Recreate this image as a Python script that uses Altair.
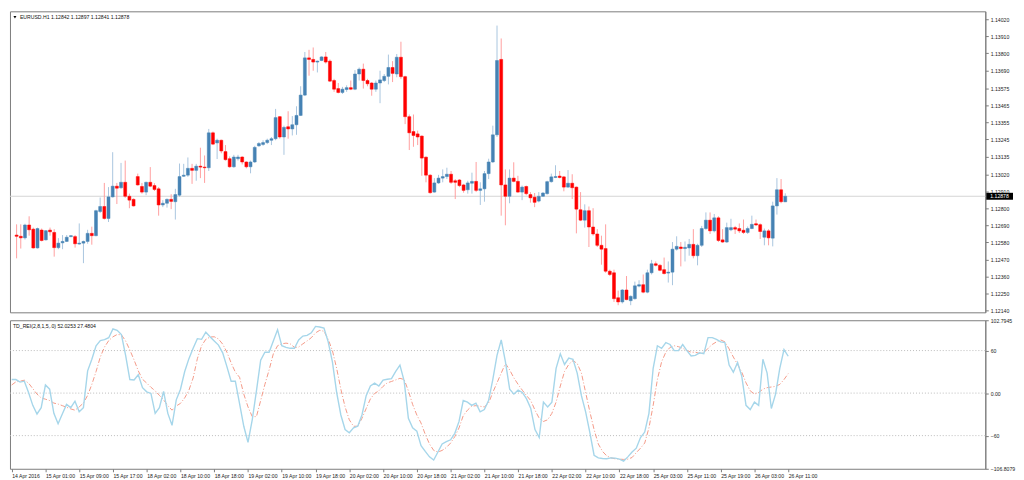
import json
import altair as alt
import pandas as pd

# ---------------- data (EURUSD H1) ----------------
OPEN = [
    1.12628, 1.12620, 1.12610, 1.12693, 1.12666, 1.12545, 1.12660, 1.12597, 1.12660, 1.12645,
    1.12547, 1.12578, 1.12587, 1.12618, 1.12618, 1.12570, 1.12576, 1.12587, 1.12639, 1.12624,
    1.12780, 1.12812, 1.12735, 1.12874, 1.12943, 1.12933, 1.12968, 1.12878, 1.12858, 1.13005,
    1.12941, 1.12905, 1.12968, 1.12947, 1.12926, 1.12822, 1.12833, 1.12858, 1.12843, 1.12885,
    1.13007, 1.13014, 1.13058, 1.13045, 1.13072, 1.13066, 1.13062, 1.13287, 1.13222, 1.13239,
    1.13166, 1.13120, 1.13068, 1.13120, 1.13131, 1.13099, 1.13068, 1.13099, 1.13203, 1.13212,
    1.13224, 1.13239, 1.13249, 1.13391, 1.13260, 1.13326, 1.13312, 1.13339, 1.13399, 1.13530,
    1.13770, 1.13760, 1.13743, 1.13753, 1.13776, 1.13749, 1.13624, 1.13572, 1.13547, 1.13566,
    1.13578, 1.13568, 1.13666, 1.13697, 1.13624, 1.13608, 1.13568, 1.13608, 1.13624, 1.13651,
    1.13708, 1.13666, 1.13774, 1.13649, 1.13391, 1.13295, 1.13280, 1.13266, 1.13130, 1.13014,
    1.12905, 1.12964, 1.12995, 1.13005, 1.13020, 1.12978, 1.12983, 1.12951, 1.12920, 1.12962,
    1.12974, 1.12916, 1.12926, 1.13024, 1.13099, 1.13274, 1.13760, 1.12951, 1.12878, 1.12995,
    1.12974, 1.12905, 1.12941, 1.12889, 1.12872, 1.12847, 1.12878, 1.12895, 1.12972, 1.12999,
    1.13008, 1.13003, 1.12937, 1.12962, 1.12937, 1.12791, 1.12724, 1.12785, 1.12680, 1.12635,
    1.12562, 1.12541, 1.12395, 1.12385, 1.12224, 1.12197, 1.12274, 1.12205, 1.12218, 1.12299,
    1.12308, 1.12260, 1.12385, 1.12443, 1.12433, 1.12405, 1.12383, 1.12389, 1.12537, 1.12551,
    1.12541, 1.12545, 1.12568, 1.12495, 1.12562, 1.12670, 1.12724, 1.12655, 1.12739, 1.12597,
    1.12583, 1.12662, 1.12676, 1.12670, 1.12659, 1.12645, 1.12670, 1.12701, 1.12695, 1.12614,
    1.12655, 1.12608, 1.12816, 1.12920, 1.12842,
]
HIGH = [
    1.12697, 1.12697, 1.12701, 1.12749, 1.12676, 1.12676, 1.12670, 1.12660, 1.12676, 1.12666,
    1.12608, 1.12628, 1.12628, 1.12628, 1.12628, 1.12703, 1.12592, 1.12662, 1.12682, 1.12791,
    1.12870, 1.12964, 1.12937, 1.13162, 1.12964, 1.13093, 1.13108, 1.12895, 1.12864, 1.13024,
    1.12964, 1.12972, 1.13066, 1.12962, 1.12937, 1.12853, 1.12864, 1.12891, 1.12926, 1.13089,
    1.13087, 1.13128, 1.13087, 1.13087, 1.13191, 1.13141, 1.13312, 1.13295, 1.13249, 1.13243,
    1.13208, 1.13135, 1.13145, 1.13145, 1.13135, 1.13103, 1.13108, 1.13203, 1.13228, 1.13239,
    1.13249, 1.13260, 1.13441, 1.13395, 1.13333, 1.13426, 1.13395, 1.13458, 1.13587, 1.13808,
    1.13822, 1.13837, 1.13753, 1.13780, 1.13808, 1.13760, 1.13635, 1.13608, 1.13583, 1.13593,
    1.13624, 1.13691, 1.13708, 1.13733, 1.13635, 1.13614, 1.13624, 1.13687, 1.13666, 1.13791,
    1.13749, 1.13795, 1.13874, 1.13655, 1.13405, 1.13405, 1.13301, 1.13270, 1.13135, 1.13020,
    1.12995, 1.13016, 1.13051, 1.13062, 1.13041, 1.12989, 1.12989, 1.12958, 1.12978, 1.13030,
    1.13099, 1.12968, 1.13041, 1.13120, 1.13333, 1.13978, 1.13895, 1.13051, 1.13051, 1.13097,
    1.13010, 1.12947, 1.12947, 1.12905, 1.12899, 1.12905, 1.12905, 1.12978, 1.13024, 1.13078,
    1.13041, 1.13008, 1.13047, 1.13020, 1.12941, 1.12905, 1.12826, 1.12812, 1.12801, 1.12666,
    1.12624, 1.12697, 1.12405, 1.12405, 1.12270, 1.12280, 1.12364, 1.12239, 1.12328, 1.12337,
    1.12374, 1.12405, 1.12468, 1.12458, 1.12441, 1.12483, 1.12458, 1.12583, 1.12620, 1.12583,
    1.12587, 1.12603, 1.12666, 1.12572, 1.12687, 1.12774, 1.12774, 1.12764, 1.12749, 1.12666,
    1.12708, 1.12733, 1.12687, 1.12703, 1.12728, 1.12683, 1.12753, 1.12728, 1.12703, 1.12670,
    1.12666, 1.12843, 1.12995, 1.12989, 1.12897,
]
LOW = [
    1.12478, 1.12541, 1.12599, 1.12624, 1.12541, 1.12541, 1.12587, 1.12593, 1.12624, 1.12489,
    1.12537, 1.12537, 1.12583, 1.12614, 1.12547, 1.12566, 1.12447, 1.12572, 1.12566, 1.12620,
    1.12770, 1.12728, 1.12712, 1.12870, 1.12828, 1.12926, 1.12868, 1.12801, 1.12812, 1.12947,
    1.12895, 1.12885, 1.12937, 1.12912, 1.12753, 1.12808, 1.12805, 1.12795, 1.12728, 1.12874,
    1.13003, 1.13003, 1.12958, 1.12978, 1.12995, 1.12964, 1.13041, 1.13208, 1.13118, 1.13155,
    1.13108, 1.13062, 1.13062, 1.13108, 1.13083, 1.13058, 1.13026, 1.13093, 1.13197, 1.13203,
    1.13214, 1.13208, 1.13239, 1.13249, 1.13145, 1.13249, 1.13270, 1.13274, 1.13395, 1.13524,
    1.13655, 1.13687, 1.13676, 1.13749, 1.13733, 1.13614, 1.13551, 1.13541, 1.13537, 1.13551,
    1.13562, 1.13562, 1.13624, 1.13572, 1.13587, 1.13526, 1.13551, 1.13478, 1.13614, 1.13599,
    1.13614, 1.13645, 1.13635, 1.13343, 1.13176, 1.13197, 1.13208, 1.13010, 1.12968, 1.12895,
    1.12901, 1.12958, 1.12968, 1.12989, 1.12958, 1.12860, 1.12937, 1.12901, 1.12895, 1.12895,
    1.12905, 1.12822, 1.12843, 1.12989, 1.13093, 1.13260, 1.12753, 1.12691, 1.12833, 1.12968,
    1.12901, 1.12853, 1.12885, 1.12837, 1.12808, 1.12839, 1.12874, 1.12889, 1.12966, 1.12995,
    1.12993, 1.12910, 1.12933, 1.12860, 1.12639, 1.12718, 1.12676, 1.12551, 1.12624, 1.12551,
    1.12437, 1.12385, 1.12364, 1.12197, 1.12176, 1.12187, 1.12208, 1.12176, 1.12212, 1.12291,
    1.12253, 1.12253, 1.12374, 1.12426, 1.12395, 1.12374, 1.12322, 1.12305, 1.12528, 1.12426,
    1.12458, 1.12495, 1.12478, 1.12433, 1.12551, 1.12662, 1.12635, 1.12645, 1.12583, 1.12578,
    1.12578, 1.12653, 1.12635, 1.12641, 1.12635, 1.12635, 1.12666, 1.12687, 1.12603, 1.12562,
    1.12562, 1.12555, 1.12760, 1.12833, 1.12841,
]
CLOSE = [
    1.12620, 1.12610, 1.12693, 1.12662, 1.12545, 1.12670, 1.12593, 1.12656, 1.12649, 1.12547,
    1.12576, 1.12587, 1.12614, 1.12624, 1.12572, 1.12576, 1.12587, 1.12639, 1.12624, 1.12785,
    1.12812, 1.12735, 1.12874, 1.12943, 1.12930, 1.12968, 1.12878, 1.12853, 1.12816, 1.12951,
    1.12905, 1.12968, 1.12943, 1.12922, 1.12822, 1.12833, 1.12858, 1.12845, 1.12889, 1.13005,
    1.13014, 1.13058, 1.13045, 1.13072, 1.13066, 1.13062, 1.13287, 1.13214, 1.13239, 1.13170,
    1.13114, 1.13068, 1.13131, 1.13131, 1.13099, 1.13068, 1.13099, 1.13193, 1.13218, 1.13224,
    1.13239, 1.13249, 1.13385, 1.13260, 1.13322, 1.13312, 1.13339, 1.13399, 1.13530, 1.13770,
    1.13760, 1.13743, 1.13749, 1.13776, 1.13743, 1.13620, 1.13568, 1.13547, 1.13568, 1.13578,
    1.13568, 1.13666, 1.13697, 1.13624, 1.13603, 1.13568, 1.13608, 1.13628, 1.13651, 1.13708,
    1.13670, 1.13774, 1.13649, 1.13391, 1.13287, 1.13270, 1.13260, 1.13124, 1.13014, 1.12901,
    1.12964, 1.12995, 1.13005, 1.13020, 1.12968, 1.12968, 1.12947, 1.12916, 1.12964, 1.12974,
    1.12916, 1.12926, 1.13024, 1.13099, 1.13274, 1.13753, 1.12951, 1.12878, 1.12995, 1.12974,
    1.12905, 1.12937, 1.12895, 1.12868, 1.12839, 1.12878, 1.12899, 1.12972, 1.13003, 1.13005,
    1.12999, 1.12937, 1.12962, 1.12933, 1.12795, 1.12724, 1.12785, 1.12680, 1.12635, 1.12562,
    1.12537, 1.12395, 1.12374, 1.12218, 1.12197, 1.12274, 1.12212, 1.12233, 1.12301, 1.12308,
    1.12260, 1.12385, 1.12443, 1.12433, 1.12401, 1.12380, 1.12389, 1.12537, 1.12555, 1.12541,
    1.12549, 1.12568, 1.12495, 1.12562, 1.12670, 1.12724, 1.12655, 1.12739, 1.12593, 1.12583,
    1.12676, 1.12676, 1.12666, 1.12655, 1.12645, 1.12670, 1.12697, 1.12693, 1.12651, 1.12655,
    1.12610, 1.12816, 1.12920, 1.12843, 1.12878,
]
REI = [
    19.1, 19.1, 15.5, 16.8, 0.9, -17.3, -29.5, -20.5, 11.4, 5.5,
    -28.6, -43.2, -29.5, -15.9, -20.5, -11.4, -26.4, -20.5, 31.4, 47.7,
    66.8, 74.1, 75.5, 78.2, 90.5, 88.6, 82.7, 53.2, 19.1, 18.6,
    25.9, 7.7, 1.8, -0.5, -28.6, -20.5, 2.3, -28.6, -45.5, -9.5,
    5.5, 30.5, 48.6, 63.2, 76.8, 75.9, 85.9, 79.5, 73.6, 67.7,
    56.8, 37.3, 16.8, 16.8, -15.0, -46.8, -69.5, -37.7, 3.2, 46.4,
    57.7, 57.7, 73.6, 89.5, 66.8, 64.5, 63.2, 63.2, 75.0, 80.5,
    81.4, 85.0, 94.1, 93.2, 91.8, 72.3, 44.1, 0.9, -30.9, -51.4,
    -55.9, -49.1, -46.8, -30.9, -3.6, 10.0, 14.1, 10.0, 18.2, 19.5,
    20.5, 30.5, 39.5, 16.8, -35.5, -49.1, -53.6, -74.1, -82.3, -90.0,
    -94.5, -83.2, -71.8, -68.6, -65.9, -56.8, -40.0, -10.5, -12.7, -17.3,
    -14.1, -26.4, -23.2, -10.5, 19.1, 53.2, 75.0, 44.1, 5.5, -1.4,
    4.1, 0.9, -8.2, -21.8, -51.4, -62.7, -12.7, -19.5, -12.7, 35.0,
    55.5, 40.5, 49.5, 47.7, 28.2, -3.6, -26.4, -55.9, -87.7, -91.4,
    -92.3, -92.7, -91.4, -91.8, -93.2, -95.9, -90.0, -83.2, -77.7, -62.7,
    -55.0, -28.6, 35.0, 66.8, 63.2, 71.4, 68.6, 60.0, 60.0, 68.6,
    60.0, 52.3, 53.2, 56.8, 55.5, 78.2, 78.2, 75.9, 72.3, 71.4,
    39.5, 29.5, 43.2, 23.6, -17.3, -23.2, -12.7, -17.3, 47.7, 28.2,
    -21.8, -1.4, 35.0, 61.4, 52.0,
]
SIG = [
    11.4, 15.9, 16.8, 18.2, 14.1, 6.4, -1.4, -6.8, -8.6, -10.5,
    -14.1, -15.5, -17.7, -20.0, -22.3, -24.1, -19.5, -14.1, -3.2, 12.3,
    30.5, 50.9, 65.0, 74.1, 79.5, 82.7, 82.3, 73.6, 60.9, 46.8,
    31.4, 19.5, 14.1, 8.2, 3.2, -3.2, -9.5, -17.7, -24.1, -18.2,
    -14.5, -6.8, 4.1, 21.4, 48.6, 66.8, 75.9, 79.1, 79.5, 76.4,
    69.1, 57.7, 42.7, 29.5, 22.3, -1.4, -19.5, -33.2, -33.2, -10.5,
    12.3, 32.7, 55.5, 66.8, 69.5, 70.5, 69.5, 64.5, 65.0, 69.5,
    73.6, 78.2, 85.0, 88.6, 87.3, 75.9, 60.0, 35.0, 5.5, -19.5,
    -37.7, -46.8, -46.8, -35.5, -21.8, -8.2, -0.5, 3.2, 9.5, 14.5,
    16.4, 18.6, 20.9, 19.1, 3.2, -15.9, -30.9, -42.3, -58.2, -71.8,
    -80.9, -83.2, -80.9, -76.8, -70.5, -61.4, -49.1, -31.8, -24.1, -18.6,
    -17.7, -18.6, -19.5, -14.1, 0.9, 14.5, 28.2, 41.8, 32.7, 21.4,
    12.3, 4.1, -3.6, -10.5, -24.1, -35.5, -40.0, -37.7, -28.6, -12.7,
    10.0, 30.5, 40.5, 45.9, 41.8, 28.2, 0.9, -26.4, -51.4, -71.8,
    -82.3, -88.6, -91.4, -92.7, -93.2, -93.6, -93.2, -90.9, -84.1, -77.7,
    -70.5, -49.1, -17.3, 19.1, 44.1, 57.7, 64.5, 66.8, 65.5, 63.2,
    60.0, 57.7, 57.7, 55.9, 56.8, 63.2, 68.6, 72.3, 75.0, 72.3,
    62.3, 50.9, 40.5, 29.5, 14.5, 3.2, -1.4, 0.9, 5.5, 7.7,
    8.6, 9.5, 12.3, 19.1, 27.5,
]
TIME_LABELS = [
    "14 Apr 2016", "15 Apr 01:00", "15 Apr 09:00", "15 Apr 17:00", "18 Apr 02:00",
    "18 Apr 10:00", "18 Apr 18:00", "19 Apr 02:00", "19 Apr 10:00", "19 Apr 18:00",
    "20 Apr 02:00", "20 Apr 10:00", "20 Apr 18:00", "21 Apr 02:00", "21 Apr 10:00",
    "21 Apr 18:00", "22 Apr 02:00", "22 Apr 10:00", "22 Apr 18:00", "25 Apr 03:00",
    "25 Apr 11:00", "25 Apr 19:00", "26 Apr 03:00", "26 Apr 11:00",
]
TIME_TICKS = [8 * k for k in range(len(TIME_LABELS))]
PRICE_TICKS = [
    1.14020, 1.13910, 1.13800, 1.13690, 1.13575, 1.13465, 1.13355, 1.13245, 1.13135,
    1.13020, 1.12910, 1.12800, 1.12690, 1.12580, 1.12470, 1.12360, 1.12250, 1.12140,
]
LAST_PRICE = 1.12878
OSC_TICKS = [102.7945, 60, 0, -60, -106.8079]
OSC_LEVELS = [60, 0, -60]
MAIN_TITLE = "EURUSD.H1  1.12842 1.12897 1.12841 1.12878"
OSC_TITLE = "TD_REI(2,8,1,5,.0) 52.0253 27.4804"

# ---------------- chart ----------------
df = pd.DataFrame({
    "i": list(range(len(OPEN))),
    "open": OPEN, "high": HIGH, "low": LOW, "close": CLOSE,
    "rei": REI, "sig": SIG,
})

FONT = "Liberation Sans"
FS = 5.2
W = 985
H_MAIN = 304
H_OSC = 150
GREY = "#7c7c7c"

xscale = alt.Scale(domain=[-0.4, 230.7], nice=False, zero=False)
pscale = alt.Scale(domain=[1.12130, 1.14070], nice=False, zero=False)
oscale = alt.Scale(domain=[-106.8079, 102.7945], nice=False, zero=False)

price_axis = alt.Axis(orient="right", values=PRICE_TICKS, format=".5f", title=None,
                      grid=False, labelFont=FONT, labelFontSize=FS, labelColor="#222",
                      tickSize=3, tickColor=GREY, domainColor=GREY, labelPadding=2)
osc_axis = alt.Axis(orient="right", values=OSC_TICKS, title=None, grid=False,
                    labelExpr="datum.value == 0 ? '0.00' : (abs(datum.value) > 100 ? format(datum.value, '.4f') : format(datum.value, 'd'))",
                    labelFont=FONT, labelFontSize=FS, labelColor="#222",
                    tickSize=3, tickColor=GREY, domainColor=GREY, labelPadding=2)
time_axis = alt.Axis(values=TIME_TICKS,
                     labelExpr=json.dumps(TIME_LABELS) + "[round(datum.value / 8)]",
                     labelAlign="left", labelFont=FONT, labelFontSize=FS, labelColor="#222",
                     labelOverlap=False, labelPadding=2, tickSize=3,
                     tickColor=GREY, domain=False, grid=False, title=None, labelFlush=False)

x_main = alt.X("i:Q", scale=xscale, axis=None)
is_up = "datum.close >= datum.open"

base = alt.Chart(df)
one = alt.Chart(pd.DataFrame({"k": [0]}))

price_line = one.mark_rule(color="#d4d4d4", strokeWidth=1).encode(
    y=alt.Y(datum=LAST_PRICE, scale=pscale, axis=price_axis))
wicks = base.mark_rule(strokeWidth=1).encode(
    x=x_main,
    y=alt.Y("low:Q", scale=pscale, axis=price_axis),
    y2="high:Q",
    color=alt.condition(is_up, alt.value("#a9c5df"), alt.value("#ff9f9f")),
)
bodies = base.mark_bar(size=3, strokeWidth=0.5).encode(
    x=x_main,
    y=alt.Y("open:Q", scale=pscale, axis=price_axis),
    y2="close:Q",
    color=alt.condition(is_up, alt.value("#4682b4"), alt.value("#ff0000")),
    stroke=alt.condition(is_up, alt.value("#4682b4"), alt.value("#ff0000")),
)
tag_box = one.mark_rect(color="#000000", yOffset=-3.5, y2Offset=3.5).encode(
    x=alt.value(W + 1), x2=alt.value(W + 28),
    y=alt.Y(datum=LAST_PRICE, scale=pscale, axis=price_axis),
    y2=alt.Y2(datum=LAST_PRICE),
)
tag_text = one.mark_text(align="left", baseline="middle", color="white",
                         font=FONT, fontSize=FS).encode(
    x=alt.value(W + 5),
    y=alt.Y(datum=LAST_PRICE, scale=pscale, axis=price_axis),
    text=alt.value(f"{LAST_PRICE:.5f}"),
)
tri = one.mark_point(shape="triangle-down", filled=True, color="#000", size=9, opacity=1).encode(
    x=alt.value(5), y=alt.value(6))
title_main = one.mark_text(align="left", baseline="middle", font=FONT, fontSize=FS,
                           color="#111").encode(
    x=alt.value(10), y=alt.value(6), text=alt.value(MAIN_TITLE))

main = alt.layer(price_line, wicks, bodies, tag_box, tag_text, tri, title_main).properties(
    width=W, height=H_MAIN)

x_osc = alt.X("i:Q", scale=xscale, axis=time_axis)
levels = alt.Chart(pd.DataFrame({"lvl": OSC_LEVELS})).mark_rule(
    color="#bcbcbc", strokeDash=[1, 2], strokeWidth=1).encode(
    y=alt.Y("lvl:Q", scale=oscale, axis=osc_axis))
sig_line = base.mark_line(color="#f49a88", strokeWidth=1, strokeDash=[5, 2, 1, 2]).encode(
    x=x_osc, y=alt.Y("sig:Q", scale=oscale, axis=osc_axis))
rei_line = base.mark_line(color="#a6d6ea", strokeWidth=1.4).encode(
    x=x_osc, y=alt.Y("rei:Q", scale=oscale, axis=osc_axis))
title_osc = one.mark_text(align="left", baseline="middle", font=FONT, fontSize=FS,
                          color="#111").encode(
    x=alt.value(3), y=alt.value(6), text=alt.value(OSC_TITLE))

osc = alt.layer(levels, sig_line, rei_line, title_osc).properties(width=W, height=H_OSC)

chart = alt.vconcat(main, osc, spacing=2).properties(padding=0, background="white").configure_view(
    stroke=GREY, strokeWidth=1)

chart.save("out.html", embed_options={"renderer": "svg", "actions": False})
